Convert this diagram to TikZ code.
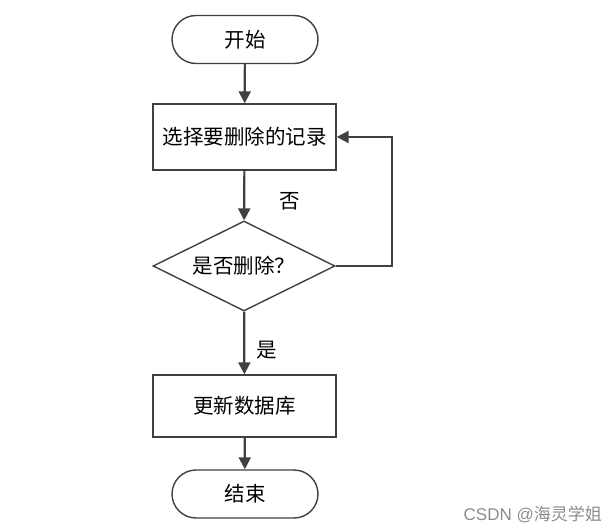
\documentclass[tikz,border=0pt]{standalone}
\usepackage{fontspec}
\setmainfont{Noto Sans CJK SC}
\newfontfamily\wmfont{Liberation Sans}
\usetikzlibrary{shapes.geometric,arrows.meta}
\definecolor{ln}{HTML}{404040}
\tikzset{
  txt/.style={font=\fontsize{20.5pt}{22pt}\selectfont},
  term/.style={txt, draw=ln, line width=1.4pt, rounded corners=24pt, minimum width=146pt, minimum height=48pt, inner sep=0pt},
  proc/.style={txt, draw=ln, line width=1.4pt, minimum width=183pt, minimum height=65pt, inner sep=0pt},
  dec/.style={txt, draw=ln, line width=1.4pt, diamond, aspect=2.02, minimum width=182pt, minimum height=90pt, inner sep=0pt},
  conn/.style={draw=ln, line width=2.2pt, -{Triangle[length=12pt,width=12pt]}},
  lbl/.style={txt}
}
\begin{document}
\begin{tikzpicture}[x=1pt,y=-1pt]
\useasboundingbox (0,0) rectangle (616,532);
\node[term] (start) at (245,39.5) {开始};
\node[proc, minimum height=66pt] (sel) at (244.5,137) {选择要删除的记录};
\node[dec] (dec) at (244,266) {是否删除？};
\node[proc, minimum height=62pt] (upd) at (244.5,406) {更新数据库};
\node[term] (end) at (245,494) {结束};
\coordinate (c1) at (392,266);
\coordinate (c2) at (392,137);
\draw[conn] (start) -- (sel);
\draw[conn] (sel) -- (dec);
\draw[conn] (dec) -- (upd);
\draw[conn] (upd) -- (end);
\draw[conn] (dec.east) -- (c1) -- (c2) -- (sel.east);
\node[lbl] (no) at (290,201) {否};
\node[lbl] (yes) at (267,350) {是};
\node[font=\fontsize{17pt}{19pt}\selectfont, text=black!45, anchor=east, inner sep=0pt] (wm) at (602,514) {{\wmfont CSDN @}海灵学姐};
\end{tikzpicture}
\end{document}
